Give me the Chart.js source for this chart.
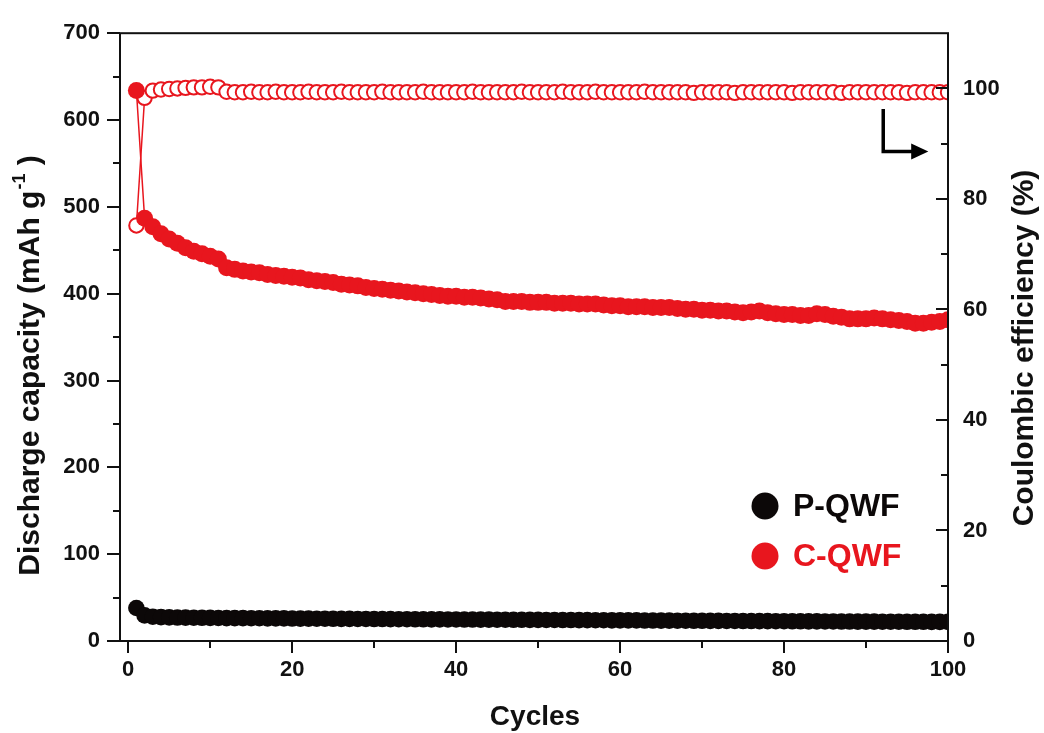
<!DOCTYPE html>
<html>
<head>
<meta charset="utf-8">
<script src="https://cdn.jsdelivr.net/npm/chart.js@4.4.0/dist/chart.umd.min.js"></script>
<style>
  html, body { margin: 0; padding: 0; background: #fff; }
  canvas { display: block; }
</style>
</head>
<body>
<canvas id="chartCycle" width="1044" height="733"></canvas>
<script>
// Data
const cycles = [1,2,3,4,5,6,7,8,9,10,11,12,13,14,15,16,17,18,19,20,
  21,22,23,24,25,26,27,28,29,30,31,32,33,34,35,36,37,38,39,40,
  41,42,43,44,45,46,47,48,49,50,51,52,53,54,55,56,57,58,59,60,
  61,62,63,64,65,66,67,68,69,70,71,72,73,74,75,76,77,78,79,80,
  81,82,83,84,85,86,87,88,89,90,91,92,93,94,95,96,97,98,99,100];

// Discharge capacity, C-QWF (mAh g-1)
const capCQWF = [634,487,477,469,463,458,453,449,446,443,
  440,430,428,426,425,424,422,421,420,419,
  418,416,415,414,413,411,410,409,407,406,
  405,404,403,402,401,400,399,398,397,397,
  396,396,395,394,393,391,391,391,390,390,
  390,389,389,389,388,388,388,387,386,386,
  385,385,385,384,384,384,383,382,382,381,
  381,380,380,379,378,379,380,378,377,376,
  376,375,375,377,376,374,373,371,371,371,
  372,371,370,369,368,366,366,367,368,370];

// Discharge capacity, P-QWF (mAh g-1)
const capPQWF = [38,29.5,28,27.5,27.2,27,26.9,26.8,26.7,26.6,
  26.5,26.4,26.4,26.3,26.2,26.2,26.1,26.0,26.0,25.9,
  25.8,25.8,25.7,25.7,25.6,25.5,25.5,25.4,25.4,25.3,
  25.3,25.2,25.1,25.1,25.0,25.0,24.9,24.9,24.8,24.8,
  24.7,24.7,24.6,24.6,24.5,24.5,24.4,24.4,24.3,24.3,
  24.2,24.2,24.1,24.1,24.0,24.0,23.9,23.9,23.8,23.8,
  23.7,23.7,23.6,23.6,23.5,23.5,23.4,23.4,23.3,23.3,
  23.2,23.2,23.1,23.1,23.0,23.0,22.9,22.9,22.8,22.8,
  22.7,22.7,22.6,22.6,22.5,22.5,22.4,22.4,22.3,22.3,
  22.3,22.2,22.2,22.2,22.1,22.1,22.1,22.0,22.0,22.0];

// Coulombic efficiency, C-QWF (%)
const ceCQWF = [75.2,98.3,99.6,99.8,99.9,100.0,100.1,100.2,100.2,100.3,
  100.2,99.4,99.3,99.3,99.4,99.3,99.3,99.4,99.3,99.3,
  99.3,99.4,99.3,99.3,99.3,99.4,99.3,99.3,99.3,99.3,
  99.4,99.3,99.3,99.3,99.3,99.4,99.3,99.3,99.3,99.3,
  99.3,99.4,99.3,99.3,99.3,99.3,99.3,99.4,99.3,99.3,
  99.3,99.3,99.4,99.3,99.3,99.3,99.4,99.3,99.3,99.3,
  99.3,99.3,99.4,99.3,99.3,99.3,99.3,99.3,99.2,99.3,
  99.3,99.3,99.3,99.2,99.3,99.3,99.3,99.3,99.3,99.3,
  99.2,99.3,99.3,99.3,99.3,99.3,99.2,99.3,99.3,99.3,
  99.3,99.3,99.3,99.3,99.2,99.3,99.3,99.3,99.3,99.3];

// Tick labels
const xTicks = [0,20,40,60,80,100];
const yTicks = [0,100,200,300,400,500,600,700];
const y2Ticks = [0,20,40,60,80,100];
const xMinor = [10,30,50,70,90];
const yMinor = [50,150,250,350,450,550,650];
const y2Minor = [10,30,50,70,90];

const RED = 'rgb(232,22,30)';
const BLACK = 'rgb(12,8,8)';
const FONT = "'Liberation Sans', Arial, sans-serif";

const toXY = arr => arr.map((v, i) => ({ x: cycles[i], y: v }));

// axes frame + major/minor ticks
const framePlugin = {
  id: 'frame',
  afterDraw(chart) {
    const { ctx, chartArea: a, scales } = chart;
    ctx.save();
    ctx.strokeStyle = '#111';
    ctx.lineWidth = 2;
    ctx.strokeRect(a.left, a.top, a.right - a.left, a.bottom - a.top);
    ctx.beginPath();
    yTicks.concat(yMinor).forEach(v => {
      const y = Math.round(scales.y.getPixelForValue(v));
      const len = yTicks.includes(v) ? 13 : 7;
      ctx.moveTo(a.left - len, y); ctx.lineTo(a.left, y);
    });
    xTicks.concat(xMinor).forEach(v => {
      const x = Math.round(scales.x.getPixelForValue(v));
      const len = xTicks.includes(v) ? 12 : 7;
      ctx.moveTo(x, a.bottom); ctx.lineTo(x, a.bottom + len);
    });
    y2Ticks.concat(y2Minor).forEach(v => {
      const y = Math.round(scales.y2.getPixelForValue(v));
      const len = y2Ticks.includes(v) ? 12 : 7;
      ctx.moveTo(a.right - len, y); ctx.lineTo(a.right, y);
    });
    ctx.stroke();

    // arrow pointing to the right axis
    const sx = scales.x, sy = scales.y2;
    const x0 = sx.getPixelForValue(92.1), yTop = sy.getPixelForValue(96.3);
    const yMid = sy.getPixelForValue(88.6), x1 = sx.getPixelForValue(96);
    const x2 = sx.getPixelForValue(97.6);
    ctx.lineWidth = 3.5;
    ctx.strokeStyle = '#000';
    ctx.beginPath();
    ctx.moveTo(x0, yTop); ctx.lineTo(x0, yMid); ctx.lineTo(x1, yMid);
    ctx.stroke();
    ctx.fillStyle = '#000';
    ctx.beginPath();
    ctx.moveTo(x1 - 4, yMid - 8); ctx.lineTo(x2, yMid); ctx.lineTo(x1 - 4, yMid + 8);
    ctx.closePath(); ctx.fill();
    ctx.restore();
  }
};

// axis titles + legend
const textPlugin = {
  id: 'texts',
  afterDraw(chart) {
    const { ctx } = chart;
    ctx.save();
    ctx.fillStyle = '#111';
    ctx.textBaseline = 'middle';

    ctx.font = "bold 28px " + FONT;
    ctx.textAlign = 'center';
    ctx.fillText('Cycles', 535, 717);

    // left title with superscript
    ctx.save();
    ctx.translate(31, 366);
    ctx.rotate(-Math.PI / 2);
    const big = "bold 30px " + FONT, small = "bold 18px " + FONT;
    const p1 = 'Discharge capacity (mAh g', p2 = '-1', p3 = ' )';
    ctx.font = big; const w1 = ctx.measureText(p1).width, w3 = ctx.measureText(p3).width;
    ctx.font = small; const w2 = ctx.measureText(p2).width;
    let x = -(w1 + w2 + w3) / 2;
    ctx.textAlign = 'left';
    ctx.font = big; ctx.fillText(p1, x, 0); x += w1;
    ctx.font = small; ctx.fillText(p2, x + 1, -11); x += w2 + 1;
    ctx.font = big; ctx.fillText(p3, x, 0);
    ctx.restore();

    ctx.save();
    ctx.translate(1025, 348);
    ctx.rotate(-Math.PI / 2);
    ctx.font = "bold 30px " + FONT;
    ctx.textAlign = 'center';
    ctx.fillText('Coulombic efficiency (%)', 0, 0);
    ctx.restore();

    // legend
    const items = [chart.data.datasets[0], chart.data.datasets[1]];
    ctx.font = "bold 32px " + FONT;
    ctx.textAlign = 'left';
    items.forEach((ds, i) => {
      const cy = 506 + i * 50;
      ctx.fillStyle = ds.pointBackgroundColor;
      ctx.beginPath(); ctx.arc(765, cy, 13.5, 0, Math.PI * 2); ctx.fill();
      ctx.fillText(ds.label, 793, cy + 1);
    });
    ctx.restore();
  }
};

const tickFont = { family: FONT, size: 22, weight: 'bold' };

new Chart(document.getElementById('chartCycle'), {
  type: 'line',
  data: {
    datasets: [{
      label: 'P-QWF',
      data: toXY(capPQWF),
      yAxisID: 'y',
      borderColor: BLACK,
      borderWidth: 1.5,
      pointBackgroundColor: BLACK,
      pointBorderColor: BLACK,
      pointBorderWidth: 0,
      pointRadius: 8.3,
      tension: 0
    }, {
      label: 'C-QWF',
      data: toXY(capCQWF),
      yAxisID: 'y',
      borderColor: RED,
      borderWidth: 1.5,
      pointBackgroundColor: RED,
      pointBorderColor: RED,
      pointBorderWidth: 0,
      pointRadius: 8.5,
      tension: 0
    }, {
      label: 'C-QWF CE',
      data: toXY(ceCQWF),
      yAxisID: 'y2',
      borderColor: RED,
      borderWidth: 1.5,
      pointBackgroundColor: '#fff',
      pointBorderColor: RED,
      pointBorderWidth: 2,
      pointRadius: 7.2,
      tension: 0
    }]
  },
  options: {
    responsive: false,
    animation: false,
    devicePixelRatio: 1,
    layout: { padding: { top: 29, left: 0, right: 0, bottom: 0 } },
    plugins: { legend: { display: false }, tooltip: { enabled: false } },
    scales: {
      x: {
        type: 'linear',
        min: -1, max: 100,
        grid: { display: false, drawTicks: false },
        border: { display: false },
        afterBuildTicks: s => { s.ticks = xTicks.map(v => ({ value: v })); },
        afterFit: s => { s.height = 92; },
        ticks: { padding: 16, color: '#111', font: tickFont }
      },
      y: {
        position: 'left',
        min: 0, max: 700,
        grid: { display: false, drawTicks: false },
        border: { display: false },
        afterBuildTicks: s => { s.ticks = yTicks.map(v => ({ value: v })); },
        afterFit: s => { s.width = 120; },
        ticks: { padding: 20, color: '#111', font: tickFont }
      },
      y2: {
        position: 'right',
        min: 0, max: 110,
        grid: { display: false, drawTicks: false },
        border: { display: false },
        afterBuildTicks: s => { s.ticks = y2Ticks.map(v => ({ value: v })); },
        afterFit: s => { s.width = 96; },
        ticks: { padding: 15, color: '#111', font: tickFont }
      }
    }
  },
  plugins: [framePlugin, textPlugin]
});
</script>
</body>
</html>
